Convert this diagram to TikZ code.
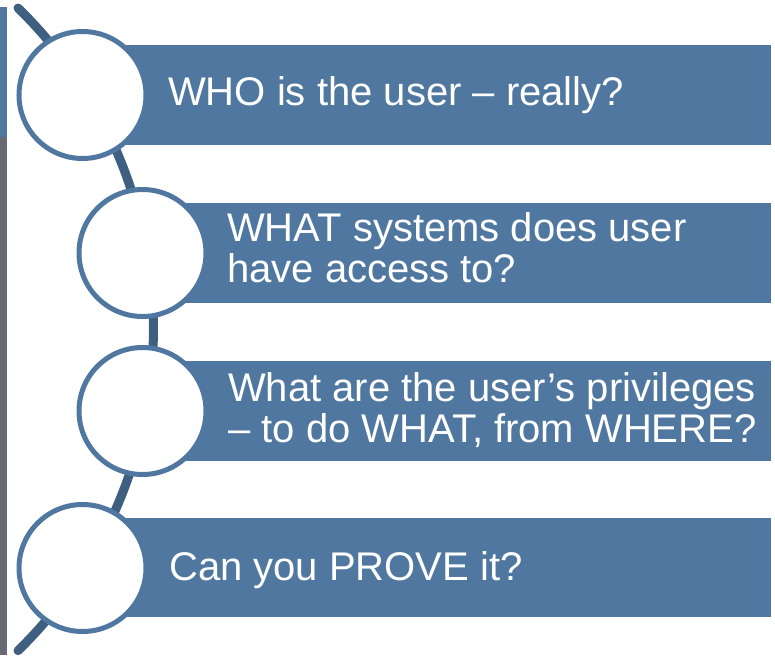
\documentclass[tikz,border=0pt]{standalone}
\usepackage{fontspec}
\setmainfont{Liberation Sans}
\definecolor{boxblue}{HTML}{4F77A0}
\definecolor{arcblue}{HTML}{3E5F80}
\definecolor{bargray}{HTML}{686A73}
\begin{document}
\begin{tikzpicture}[x=1pt,y=-1pt,
  qbox/.style={fill=boxblue,draw=none},
  qcircle/.style={circle,draw=boxblue,line width=5pt,fill=white,minimum size=127pt,inner sep=0pt},
  qtext/.style={anchor=base west,inner sep=0pt,text=white,align=left,
    font=\fontsize{40pt}{41pt}\selectfont},
  spine/.style={draw=arcblue,line width=9pt,line cap=round}]
\useasboundingbox (0,0) rectangle (775,659);
% left bar
\fill[boxblue] (0,7) rectangle (7,137);
\fill[bargray] (0,137) rectangle (7,655);
% spine arc
\coordinate (arcstart) at (18,8);
\draw[spine] (arcstart) arc[start angle=45.7,end angle=-45.7,radius=449pt];
% boxes
\fill[qbox] (82,45) rectangle (771,145);
\fill[qbox] (142,203) rectangle (771,303);
\fill[qbox] (142,361) rectangle (771,461);
\fill[qbox] (82,518) rectangle (771,617);
% circles
\node[qcircle] (c1) at (82.5,95) {};
\node[qcircle] (c2) at (142.5,253) {};
\node[qcircle] (c3) at (142.5,411) {};
\node[qcircle] (c4) at (82.5,568) {};
% texts
\node[qtext] (t1) at (168,105) {WHO is the user – really?};
\node[qtext] (t2) at (227,282) {WHAT systems does user\\have access to?};
\node[qtext] (t3) at (228,442) {What are the user’s privileges\\– to do WHAT, from WHERE?};
\node[qtext] (t4) at (169,580) {Can you PROVE it?};
\end{tikzpicture}
\end{document}
